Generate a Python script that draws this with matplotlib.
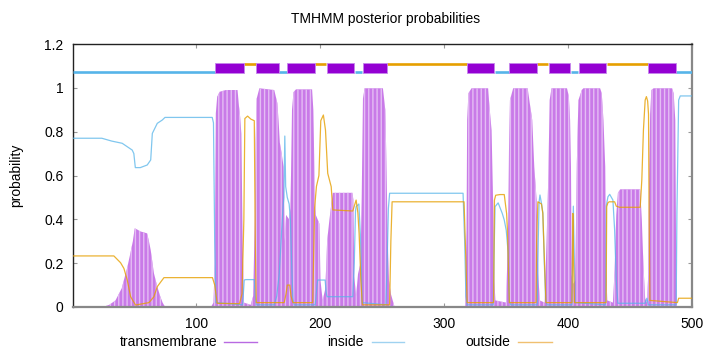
import matplotlib
matplotlib.use("Agg")
import matplotlib.pyplot as plt
from matplotlib.patches import Rectangle
from matplotlib.lines import Line2D

plt.rcParams['font.family'] = ['Liberation Sans', 'DejaVu Sans']

# ---- data ----
tm_x = [1, 25, 30, 35, 40, 44.5, 47, 49, 50.5, 53, 55, 60.5, 62, 63.4, 66, 68.7, 71, 73, 75,
        112, 114, 115, 115.9, 117, 119, 124, 133.4, 134.5, 135.5, 136.5, 137.5, 138.5,
        144, 146, 147.3, 148, 148.8, 151, 163, 165.5, 166.5, 167.5, 169, 170.5, 171.5, 172.5, 175, 176,
        176.5, 177.3, 178.5, 180.5, 193.5, 194.5, 195, 195.5, 196.5, 199.4, 200.3, 202, 204,
        205, 205.6, 207.5, 208.8, 210.2, 226, 226.8, 227.5, 228.5, 229, 230.5, 232.5, 233.5,
        234.5, 235.8, 250.6, 252.5, 253.3, 254.5, 255.5, 257, 260,
        317, 317.5, 318, 318.5, 319.5, 322, 335.4, 336.5, 338.2, 339.5, 340.4, 341.3,
        350, 351, 351.6, 352.2, 353, 355.6, 367.3, 369, 371, 372.6, 374.5, 375.8, 377,
        381, 382.5, 384, 385, 386.5, 399, 400.5, 401.5, 402.2, 402.8, 403.5, 405.5, 406.3, 406.9,
        408.2, 410.9, 412.2, 425.7, 427, 428.4, 429.8, 430.6, 431.5,
        436, 437.4, 438.7, 440, 441.9, 458, 459.3, 460.6, 462, 463.5, 464.5, 465.2, 466, 467,
        468.8, 483.7, 485, 486.3, 487.1, 487.6, 500]
tm_y = [0, 0, 0.01, 0.03, 0.085, 0.18, 0.245, 0.30, 0.359, 0.352, 0.345, 0.336, 0.30, 0.26, 0.154, 0.093, 0.05, 0.02, 0,
        0, 0.02, 0.2, 0.884, 0.96, 0.982, 0.99, 0.99, 0.92, 0.868, 0.79, 0.3, 0.02,
        0.01, 0.05, 0.4, 0.76, 0.95, 0.998, 0.99, 0.93, 0.85, 0.75, 0.70, 0.64, 0.30, 0.42, 0.40, 0.45,
        0.6, 0.9, 0.98, 0.993, 0.993, 0.9, 0.75, 0.52, 0.42, 0.38, 0.12, 0.03, 0.08,
        0.2, 0.3, 0.4, 0.46, 0.521, 0.521, 0.49, 0.14, 0.08, 0.05, 0.15, 0.2, 0.5,
        0.95, 0.998, 0.998, 0.9, 0.7, 0.3, 0.12, 0.06, 0,
        0, 0.2, 0.35, 0.853, 0.975, 0.998, 0.998, 0.914, 0.807, 0.458, 0.12, 0.03,
        0.02, 0.25, 0.4, 0.709, 0.944, 0.998, 0.998, 0.929, 0.853, 0.64, 0.49, 0.154, 0.03,
        0.02, 0.3, 0.61, 0.944, 0.998, 0.998, 0.96, 0.853, 0.64, 0.15, 0.1, 0.12, 0.4, 0.655,
        0.944, 0.99, 0.998, 0.998, 0.975, 0.853, 0.64, 0.16, 0.03,
        0.02, 0.17, 0.42, 0.52, 0.537, 0.537, 0.4, 0.19, 0.04, 0.02, 0.15, 0.6, 0.88, 0.99,
        0.998, 0.998, 0.975, 0.853, 0.123, 0, 0]

inside_x = [1, 24, 32, 40.4, 48.5, 49.8, 51, 55, 60.6, 63.4, 64.7, 68.7, 72.7, 74.9, 113, 114, 115, 116,
            137.5, 138.8, 140, 146.9, 147.7, 148.5, 163, 165, 167, 168.5, 170, 170.8, 171.5, 172.2, 173.5,
            175, 176, 177, 178, 179, 196, 197.5, 198, 204, 205, 205.6, 226.3, 227.5, 228.5, 229, 231.2,
            232.5, 233.9, 253, 254, 255, 256, 315.2, 316.5, 317.5, 318.5, 339.5, 340.4, 341, 343.5,
            346.8, 348.4, 350, 351.6, 352.5, 353.5, 375, 375.8, 376.5, 377.2, 378.5, 379.5, 380.7,
            381.8, 383, 403, 403.6, 404.1, 404.8, 405.5, 430, 430.6, 432, 433.4, 436, 437.4, 438.7,
            440, 462, 463.4, 464.5, 487, 487.6, 489, 490.3, 500]
inside_y = [0.77, 0.77, 0.757, 0.747, 0.716, 0.70, 0.636, 0.636, 0.648, 0.671, 0.792, 0.838, 0.853, 0.865, 0.865, 0.84, 0.3, 0.02,
            0.01, 0.123, 0.125, 0.125, 0.05, 0.01, 0.01, 0.05, 0.15, 0.3, 0.45, 0.5, 0.78, 0.55, 0.5,
            0.47, 0.40, 0.2, 0.04, 0.01, 0.01, 0.1, 0.123, 0.123, 0.06, 0.047, 0.047, 0.2, 0.44, 0.458, 0.47,
            0.32, 0.02, 0.01, 0.2, 0.45, 0.519, 0.519, 0.3, 0.05, 0.01, 0.01, 0.3, 0.458, 0.475,
            0.427, 0.397, 0.35, 0.246, 0.03, 0.01, 0.01, 0.3, 0.48, 0.511, 0.47, 0.43, 0.2,
            0.03, 0.01, 0.01, 0.3, 0.46, 0.25, 0.02, 0.01, 0.46, 0.503, 0.514, 0.488, 0.35, 0.12,
            0.017, 0.017, 0.04, 0.01, 0.01, 0.43, 0.944, 0.963, 0.963]

outside_x = [1, 33.7, 39.1, 41.8, 44.5, 47.2, 51.2, 62, 66, 68.7, 74.1, 113.2, 115, 117, 135, 137, 138.5,
             139.3, 141.5, 144.2, 146.9, 147.7, 148.5, 171, 172.5, 173.5, 175.5, 176.5, 178, 194, 195.5,
             197, 199, 200.5, 202.6, 204.3, 206.1, 208.9, 210.2, 226.3, 229, 230.4, 231.4, 232.8, 234,
             256, 257, 258, 316, 317, 318.5, 339.8, 340.5, 341.5, 345, 348.4, 350.3, 351, 352.5,
             374, 374.5, 375.5, 378.4, 379.5, 381, 382, 403, 403.7, 404.3, 405, 430.5, 431, 432, 433,
             437.4, 438.7, 441.4, 458, 459.3, 460.6, 462, 463, 464, 464.7, 465.2, 465.8, 488, 489, 500]
outside_y = [0.233, 0.233, 0.202, 0.176, 0.123, 0.047, 0.009, 0.02, 0.047, 0.093, 0.134, 0.134, 0.1, 0.017, 0.015, 0.06, 0.4,
             0.86, 0.871, 0.857, 0.85, 0.3, 0.02, 0.02, 0.06, 0.1, 0.1, 0.05, 0.02, 0.02, 0.45,
             0.55, 0.6, 0.85, 0.876, 0.807, 0.61, 0.549, 0.443, 0.438, 0.488, 0.43, 0.336, 0.123, 0.01,
             0.01, 0.3, 0.48, 0.48, 0.3, 0.02, 0.02, 0.488, 0.51, 0.513, 0.513, 0.427, 0.35, 0.02,
             0.02, 0.3, 0.48, 0.47, 0.427, 0.18, 0.02, 0.02, 0.427, 0.2, 0.02, 0.02, 0.458, 0.476, 0.48,
             0.48, 0.46, 0.455, 0.455, 0.58, 0.807, 0.944, 0.96, 0.94, 0.88, 0.4, 0.03, 0.02, 0.04, 0.04]

# predicted topology (top strip)
tm_segments = [(116, 138), (149, 166), (174, 195), (206, 227), (235, 253),
               (319, 340), (353, 374), (385, 401), (409, 430), (465, 486)]
inside_segments = [(1, 115), (167, 173), (228, 234), (341, 352), (402, 408), (487, 500)]
outside_segments = [(139, 148), (196, 205), (254, 318), (375, 384), (431, 464)]

xticks = [100, 200, 300, 400, 500]
yticks = [0, 0.2, 0.4, 0.6, 0.8, 1.0, 1.2]
ytick_labels = ["0", "0.2", "0.4", "0.6", "0.8", "1", "1.2"]

TM_C = "#9400d3"
IN_C = "#56b4e9"
OUT_C = "#e69f00"

fig = plt.figure(figsize=(7.2, 3.52), dpi=100)
ax = fig.add_axes([73.3 / 720, 1 - 307 / 352, (692.3 - 73.3) / 720, (307 - 44) / 352])

# transmembrane posterior (impulse-like fill)
ax.fill_between(tm_x, 0, tm_y, facecolor="#c97ae8", edgecolor="#e4bdf4",
                hatch="||||", linewidth=0, zorder=2)
ax.plot(inside_x, inside_y, color=IN_C, lw=0.9, alpha=0.75, zorder=3)
ax.plot(outside_x, outside_y, color=OUT_C, lw=0.9, alpha=0.8, zorder=3)

# topology strip
for a, b in inside_segments:
    ax.plot([a, b], [1.071, 1.071], color=IN_C, lw=1.9, solid_capstyle="butt", zorder=4)
for a, b in outside_segments:
    ax.plot([a, b], [1.11, 1.11], color=OUT_C, lw=1.9, solid_capstyle="butt", zorder=4)
for a, b in tm_segments:
    ax.add_patch(Rectangle((a - 0.5, 1.067), b - a + 1, 0.045, facecolor=TM_C,
                           edgecolor="#c586ec", lw=0.6, zorder=5))

ax.set_xlim(1, 500)
ax.set_ylim(0, 1.2)
ax.set_xticks(xticks)
ax.set_yticks(yticks)
ax.set_yticklabels(ytick_labels)
ax.tick_params(direction="in", length=3, width=0.8, color="#999999", labelsize=10,
               top=True, right=True, pad=7)
for s in ["top", "left"]:
    ax.spines[s].set_color("#222222")
    ax.spines[s].set_linewidth(1.0)
for s in ["bottom", "right"]:
    ax.spines[s].set_color("#888888")
    ax.spines[s].set_linewidth(1.6)

ax.set_ylabel("probability", fontsize=10)
ax.yaxis.set_label_coords(-0.081, 0.5)

fig.text(386 / 720, 1 - 19 / 352, "TMHMM posterior probabilities", ha="center", va="center", fontsize=10)

# legend row at the bottom
ly = 1 - 341.5 / 352
entries = [("transmembrane", 217, 224.3, 257.3, "#b86ae2"),
           ("inside", 363.5, 371.7, 404.3, "#9fd2f0"),
           ("outside", 510.5, 518.3, 551.7, "#f0c070")]
for label, tx, l0, l1, c in entries:
    fig.text(tx / 720, ly, label, ha="right", va="center", fontsize=10)
    fig.add_artist(Line2D([l0 / 720, l1 / 720], [ly, ly], color=c, lw=1.0,
                          transform=fig.transFigure))

fig.savefig("out.png", dpi=100)
